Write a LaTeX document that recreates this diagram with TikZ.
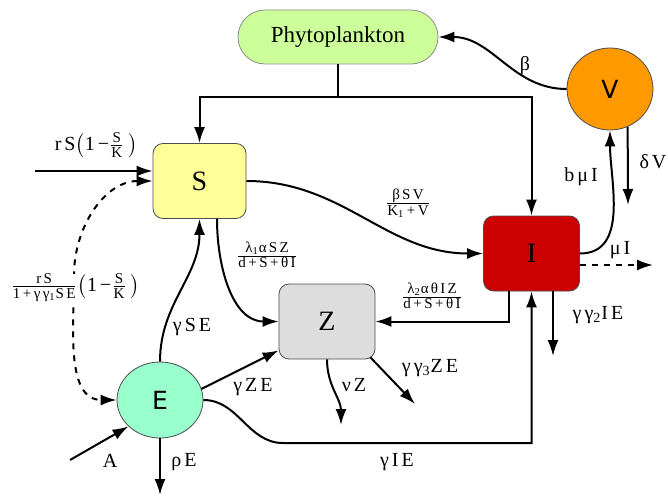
\documentclass[tikz,border=0pt]{standalone}
\usepackage{amsmath}
\usepackage{fontspec}
\setmainfont{Liberation Serif}
\newfontfamily\sansf{DejaVu Sans}
\newfontfamily\lblf[LetterSpace=15]{Liberation Serif}
\usepackage{tikz}
\usetikzlibrary{arrows.meta,positioning,shapes.geometric}
\definecolor{phytocol}{HTML}{CCFF99}
\definecolor{suscol}{HTML}{FFFF99}
\definecolor{infcol}{HTML}{CC0000}
\definecolor{zoocol}{HTML}{DDDDDD}
\definecolor{expcol}{HTML}{99FFCC}
\definecolor{vircol}{HTML}{FF9900}
\newcommand{\ratefrac}[2]{$\tfrac{\text{\fontsize{7.5}{8}\selectfont #1}}{\text{\fontsize{7.5}{8}\selectfont #2}}$}

\begin{document}
\begin{tikzpicture}[x=0.5pt,y=-0.5pt,
 box/.style={draw=black!70,rounded corners=5pt,minimum width=48pt,minimum height=37.5pt,font=\fontsize{14}{16}\selectfont},
 pill/.style={draw=black!45,fill=phytocol,rounded corners=13.5pt,minimum width=100pt,minimum height=27pt,font=\fontsize{11.5}{13}\selectfont},
 roundbox/.style={draw=black!70,ellipse,minimum width=43pt,minimum height=38pt,font=\sansf\fontsize{12.5}{15}\selectfont},
 lbl/.style={font=\lblf\fontsize{10}{12}\selectfont,inner sep=1pt},
 arr/.style={-{Latex[length=8pt,width=5.5pt]},line width=1pt}]
\useasboundingbox (0,0) rectangle (668,497);
% compartments
\node[pill] (phyto) at (338,37) {Phytoplankton};
\node[box,fill=suscol,minimum width=46.5pt] (S) at (199.5,181) {S};
\node[box,fill=infcol] (I) at (531.5,253.5) {I};
\node[box,fill=zoocol] (Z) at (327,321.5) {Z};
\node[roundbox,fill=expcol] (E) at (160,400) {E};
\node[roundbox,fill=vircol,minimum height=41pt] (V) at (610,89) {V};
% free ends and bends
\coordinate (split) at (338,97);
\coordinate (rin) at (35,171);
\coordinate (dashmid) at (74,275);
\coordinate (dVout) at (628,205);
\coordinate (muout) at (653,265);
\coordinate (g2out) at (553,356);
\coordinate (eibend) at (283,443);
\coordinate (eicorner) at (531.5,443);
\coordinate (nuout) at (341,425);
\coordinate (g3out) at (415,404);
\coordinate (rhoout) at (160,495);
\coordinate (Ain) at (70,460);
% flows
\draw[line width=1pt] (phyto.south) -- (split);
\draw[arr] (split) -| (S.north);
\draw[arr] (split) -| (I.north);
\draw[arr] (V.west) to[out=180,in=0] (phyto.east);
\draw[arr] (I.east) to[out=0,in=-90] (V.south);
\draw[arr] (V.-65) -- (dVout);
\draw[arr,dashed] (I.east |- muout) -- (muout);
\draw[arr] (I.south -| g2out) -- (g2out);
\draw[arr] (E.east) to[out=0,in=180] (eibend) -- (eicorner) -- (I.south);
\draw[arr] ([xshift=-11.5pt]I.south) |- (Z.east);
\draw[arr] (S.east) to[out=0,in=180] (I.west);
\draw[arr] ([xshift=8.75pt]S.south) to[out=-90,in=180] (Z.west);
\draw[arr] (E.north) to[out=90,in=-90] (S.south);
\draw[arr] (E.15) -- ([yshift=4.5pt]Z.south west);
\draw[arr] (Z.south) to[out=-90,in=90] (nuout);
\draw[arr] ([xshift=-2.5pt,yshift=1pt]Z.south east) -- (g3out);
\draw[arr] (E.south) -- (rhoout);
\draw[arr] (Ain) -- (E.-140);
\draw[arr] (rin) -- (rin -| S.west);
\draw[{Latex[length=8pt,width=5.5pt]}-{Latex[length=8pt,width=5.5pt]},line width=1pt,dashed] (S.west) to[out=180,in=90] (dashmid) to[out=-90,in=180] (E.west);
% rates
\node[lbl] (lrs) at (96,145) {rS$\bigl(\text{1−}\text{\ratefrac{S}{K}}\,\bigr)$};
\node[lbl,fill=white,inner sep=0pt] (lrec) at (75,288) {\ratefrac{rS}{1\,+\,γγ\textsubscript{1}SE}$\bigl(\text{1−}\text{\ratefrac{S}{K}}\,\bigr)$};
\node[lbl] (lbsv) at (408,203) {\ratefrac{βSV}{K\textsubscript{1}\,+\,V}};
\node[lbl] (llam1) at (267,255) {\ratefrac{λ\textsubscript{1}αSZ}{d\,+\,S\,+\,θI}};
\node[lbl] (llam2) at (432,296) {\ratefrac{λ\textsubscript{2}αθIZ}{d\,+\,S\,+\,θI}};
\node[lbl] (lbeta) at (525,66) {β};
\node[lbl] (lbmu) at (581,177) {bμI};
\node[lbl] (ldelta) at (653,162) {δV};
\node[lbl] (lmu) at (620,250) {μI};
\node[lbl] (lg2) at (598,315) {γγ\textsubscript{2}IE};
\node[lbl] (lgse) at (192,327) {γSE};
\node[lbl] (lgze) at (253,387) {γZE};
\node[lbl] (lnu) at (354,385) {νZ};
\node[lbl] (lg3) at (430,368) {γγ\textsubscript{3}ZE};
\node[lbl] (la) at (110,461) {A};
\node[lbl] (lrho) at (184,462) {ρE};
\node[lbl] (lgie) at (397,462) {γIE};
\end{tikzpicture}
\end{document}
